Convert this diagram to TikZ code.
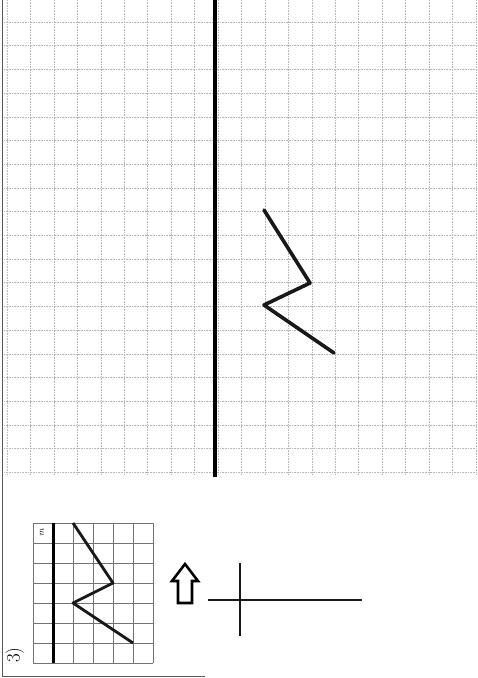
\documentclass[tikz,border=0pt]{standalone}
\begin{document}
\begin{tikzpicture}[x=1pt,y=-1pt,
  gridline/.style={black!28, line width=0.6pt, densely dotted},
  smallgrid/.style={black!55, line width=0.9pt},
  axisline/.style={black, line width=4pt},
  zigline/.style={black!90, line width=3.6pt, line join=round, line cap=round},
  smallzig/.style={black!90, line width=2.8pt, line join=round},
  frameline/.style={black!65, line width=1pt},
  arrowbox/.style={black, line width=2.6pt, line join=miter},
  crossline/.style={black!90, line width=2.8pt}]
\useasboundingbox (0,0) rectangle (478,678);
\fill[white] (0,0) rectangle (478,678);
% main grid
\foreach \j in {0,...,20} \draw[gridline] ({7+23.45*\j},0) -- ({7+23.45*\j},475);
\foreach \k in {0,...,19} \draw[gridline] (4,{22+23.7*\k}) -- (478,{22+23.7*\k});
% mirror axis
\coordinate (axtop) at (215,0);
\coordinate (axbot) at (215,477);
\draw[axisline] (axtop) -- (axbot);
% zigzag
\coordinate (z1) at (264,210);
\coordinate (z2) at (310,283);
\coordinate (z3) at (264,305);
\coordinate (z4) at (334,353);
\draw[zigline] (z1) -- (z2) -- (z3) -- (z4);
% frame
\draw[frameline] (2,0) -- (2,676) -- (205,676);
% small panel
\foreach \j in {0,...,6} \draw[smallgrid] ({33+20*\j},523) -- ({33+20*\j},663);
\foreach \k in {0,...,7} \draw[smallgrid] (33,{523+20*\k}) -- (153,{523+20*\k});
\draw[black, line width=3pt] (53,523) -- (53,663);
\draw[smallzig] (73,523) -- (113,583) -- (73,603) -- (133,643);
\node[rotate=90, font=\small, inner sep=0pt] (mlabel) at (42,533) {\textit{m}};
\node[rotate=90, font=\fontsize{19}{19}\selectfont, inner sep=0pt] (num) at (15,655) {3)};
% arrow
\draw[arrowbox] (185,564) -- (198,581) -- (192,581) -- (192,603) -- (178,603) -- (178,581) -- (172,581) -- cycle;
% cross
\coordinate (ch1) at (208,600);
\coordinate (ch2) at (362,600);
\coordinate (cv1) at (240,563);
\coordinate (cv2) at (240,636);
\draw[crossline] (ch1) -- (ch2);
\draw[crossline] (cv1) -- (cv2);
\end{tikzpicture}
\end{document}
